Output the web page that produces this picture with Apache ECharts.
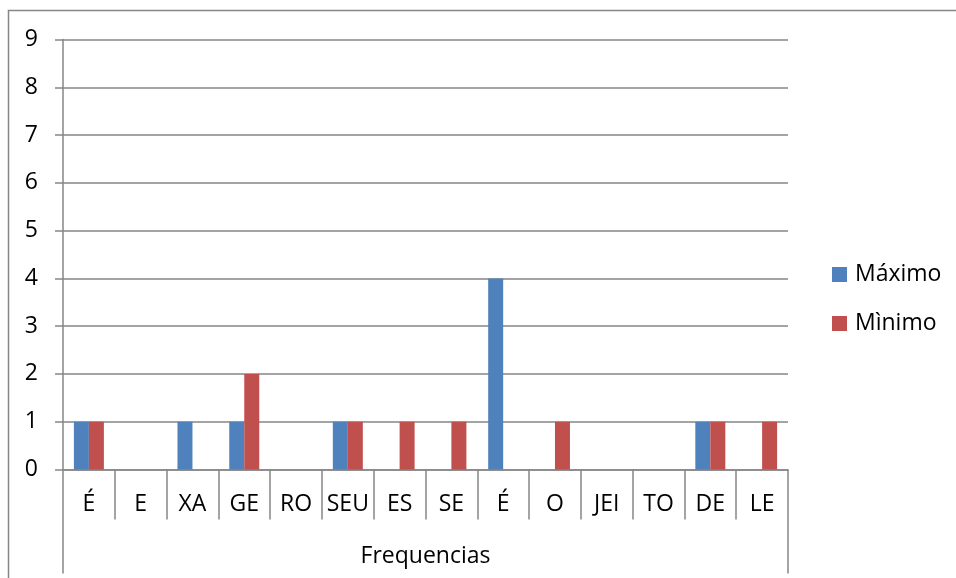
<!DOCTYPE html>
<html><head><meta charset="utf-8">
<script src="https://cdn.jsdelivr.net/npm/echarts@6/dist/echarts.min.js"></script>
<style>html,body{margin:0;padding:0;background:#fff}#c{width:956px;height:578px}</style>
</head><body><div id="c"></div>
<script>
var categories = ['É','E','XA','GE','RO','SEU','ES','SE','É','O','JEI','TO','DE','LE'];
var maximo = [1,0,1,1,0,1,0,0,4,0,0,0,1,0];
var minimo = [1,0,0,2,0,1,1,1,0,1,0,0,1,1];
var groupLabel = ['Frequencias'];
var yTicks = [0,9,1];

var font = '"Open Sans", "Noto Sans", sans-serif';
var gray = '#868686';
var chart = echarts.init(document.getElementById('c'), null, {renderer:'canvas'});
chart.setOption({
  animation:false,
  backgroundColor:'#fff',
  textStyle:{fontFamily:font},
  graphic:[{type:'rect',shape:{x:8.5,y:10.5,width:1000,height:700},style:{fill:'none',stroke:gray,lineWidth:1.5},silent:true,z:-1}],
  grid:{left:63,right:168,top:39.5,bottom:108.5,containLabel:false},
  legend:{orient:'vertical',left:832,top:263,padding:0,itemWidth:15,itemHeight:15,itemGap:26,icon:'rect',
    textStyle:{fontFamily:font,fontSize:23,color:'#000',padding:[0,0,0,3]},
    data:['Máximo','Mìnimo']},
  xAxis:[{
    type:'category',data:categories,position:'bottom',
    axisLine:{show:true,lineStyle:{color:gray,width:1.5}},
    axisTick:{show:true,interval:0,length:50,lineStyle:{color:gray,width:1.5}},
    axisLabel:{interval:0,margin:23,fontSize:23,color:'#000',fontFamily:font},
    splitLine:{show:false}
  },{
    type:'category',data:groupLabel,position:'bottom',gridIndex:0,
    axisLine:{show:false},
    axisTick:{show:true,length:104,lineStyle:{color:gray,width:1.5}},
    axisLabel:{margin:75,fontSize:23,color:'#000',fontFamily:font},
    splitLine:{show:false}
  }],
  yAxis:{type:'value',min:yTicks[0],max:yTicks[1],interval:yTicks[2],
    axisLine:{show:true,lineStyle:{color:gray,width:1.5}},
    axisTick:{show:true,length:8,lineStyle:{color:gray,width:1.5}},
    axisLabel:{margin:25,fontSize:23,color:'#000',fontFamily:font},
    splitLine:{show:true,lineStyle:{color:gray,width:1.5}}
  },
  series:[
    {name:'Máximo',type:'bar',xAxisIndex:0,data:maximo,barWidth:15,barGap:'0%',itemStyle:{color:'#4F81BD'}},
    {name:'Mìnimo',type:'bar',xAxisIndex:0,data:minimo,barWidth:15,barGap:'0%',itemStyle:{color:'#C0504D'}}
  ]
});
</script></body></html>
